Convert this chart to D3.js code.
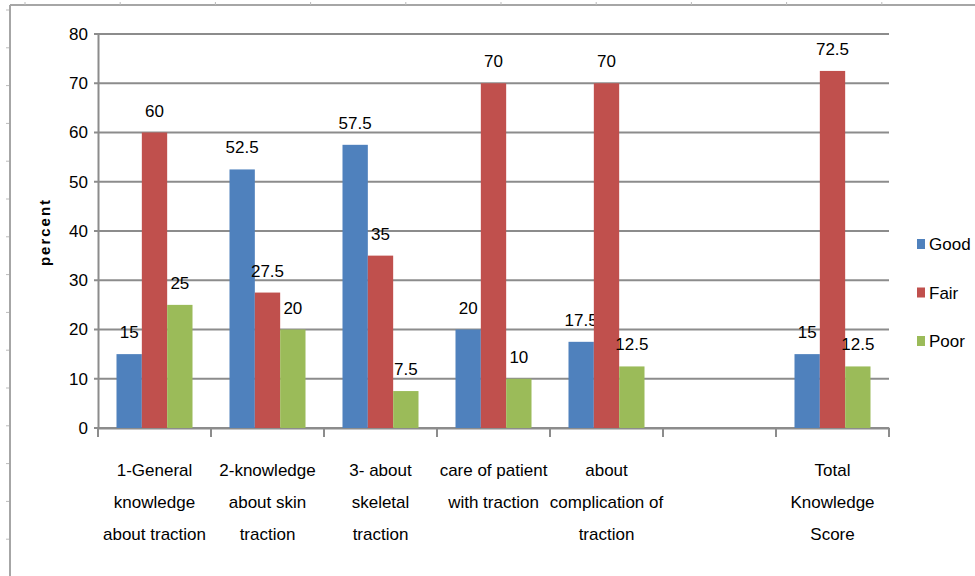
<!DOCTYPE html>
<html>
<head>
<meta charset="utf-8">
<script src="https://cdn.jsdelivr.net/npm/d3@7"></script>
<style>
  body { margin:0; background:#fff; }
  svg text { font-family:'Liberation Sans Narrow','Liberation Sans',Arial,sans-serif; fill:#000; }
</style>
</head>
<body>
<svg class="knowledge-ch"></svg>
<script>
"use strict";

var categories = [
  ['1-General','knowledge','about traction'],
  ['2-knowledge','about skin','traction'],
  ['3- about','skeletal','traction'],
  ['care of patient','with traction'],
  ['about','complication of','traction'],
  [''],
  ['Total','Knowledge','Score']
];
var seriesNames = ['Good','Fair','Poor'];
var good = [15, 52.5, 57.5, 20, 17.5, null, 15];
var fair = [60, 27.5, 35, 70, 70, null, 72.5];
var poor = [25, 20, 7.5, 10, 12.5, null, 12.5];
var yTicks = [0,10,20,30,40,50,60,70,80];
var colors = ['#4f81bd','#c0504d','#9bbb59'];

var W = 975, H = 576;
var padLeft = 98, padRight = 889, padTop = 34, padBottom = 428;

var svg = d3.select('.knowledge-ch')
  .attr('width',W)
  .attr('height',H);

// outer frame with ruler marks
svg.append('line').attr('x1',10).attr('x2',W).attr('y1',5).attr('y2',5)
  .style('stroke','#a6a6a6').style('stroke-width',2);
svg.append('line').attr('x1',10).attr('x2',10).attr('y1',5).attr('y2',H)
  .style('stroke','#a6a6a6').style('stroke-width',2);
d3.range(25,W,95.2).forEach(function(x){
  svg.append('line').attr('x1',x).attr('x2',x).attr('y1',2).attr('y2',5)
    .style('stroke','#bbb').style('stroke-width',1);
});
d3.range(10,H,37.8).forEach(function(y){
  svg.append('line').attr('x1',6).attr('x2',9).attr('y1',y).attr('y2',y)
    .style('stroke','#bbb').style('stroke-width',1);
});

var data = categories.map(function(c,i){
  return {cat:i, values:[good[i],fair[i],poor[i]]};
});

var x = d3.scaleBand()
  .range([padLeft,padRight])
  .domain(d3.range(categories.length));

var x1 = d3.scaleBand()
  .domain(seriesNames)
  .range([0,x.bandwidth()])
  .paddingOuter(0.73)
  .paddingInner(0);

var y = d3.scaleLinear()
  .range([padBottom,padTop])
  .domain([0,80]);

// gridlines
svg.append('g').selectAll('line')
  .data(yTicks)
  .enter().append('line')
    .attr('x1',padLeft-4)
    .attr('x2',padRight)
    .attr('y1',function(d){return y(d)})
    .attr('y2',function(d){return y(d)})
    .style('stroke','#8c8c8c')
    .style('stroke-width',2);

var yAxis = d3.axisLeft(y).tickValues(yTicks).tickSize(0).tickPadding(10);
var gy = svg.append('g')
  .attr('transform','translate('+padLeft+',0)')
  .call(yAxis);
gy.select('.domain').style('stroke','#8c8c8c').style('stroke-width',2);
gy.selectAll('text').style('font-size','17px');

// x axis line and ticks
var xAxis = d3.axisBottom(x).tickSize(0).tickFormat('');
var gx = svg.append('g')
  .attr('transform','translate(0,'+padBottom+')')
  .call(xAxis);
gx.select('.domain').style('stroke','#8c8c8c').style('stroke-width',2);
gx.selectAll('.tick').remove();
gx.selectAll('.sep')
  .data(d3.range(categories.length+1))
  .enter().append('line')
    .attr('x1',function(d){return padLeft + d*x.step()})
    .attr('x2',function(d){return padLeft + d*x.step()})
    .attr('y1',0)
    .attr('y2',9)
    .style('stroke','#8c8c8c')
    .style('stroke-width',2);

// bars
var groups = svg.append('g').selectAll('.grp')
  .data(data)
  .enter().append('g')
    .attr('transform',function(d){return 'translate('+x(d.cat)+',0)'});

var cells = groups.selectAll('.cell')
  .data(function(d){
    return d.values.map(function(v,j){return {name:seriesNames[j],v:v,j:j}})
      .filter(function(e){return e.v !== null});
  })
  .enter().append('g');

cells.append('rect')
  .attr('x',function(d){return x1(d.name)})
  .attr('width',x1.bandwidth())
  .attr('y',function(d){return y(d.v)})
  .attr('height',function(d){return padBottom - y(d.v)})
  .style('fill',function(d){return colors[d.j]});

cells.append('text')
  .attr('x',function(d){return x1(d.name) + x1.bandwidth()/2})
  .attr('y',function(d){return y(d.v) - 16})
  .attr('text-anchor','middle')
  .style('font-size','17px')
  .text(function(d){return d.v});

// category labels
var labels = svg.append('g').selectAll('.lab')
  .data(categories)
  .enter().append('text')
    .attr('text-anchor','middle')
    .attr('transform',function(d,i){return 'translate('+(x(i)+x.bandwidth()/2)+',0)'})
    .style('font-size','17px');
labels.selectAll('tspan')
  .data(function(d){return d})
  .enter().append('tspan')
    .attr('x',0)
    .attr('y',function(d,k){return 476 + k*32})
    .text(function(d){return d});

// y title
svg.append('text')
  .attr('transform','translate(50,232) rotate(-90)')
  .attr('text-anchor','middle')
  .style('font-family','Liberation Sans, Arial, sans-serif')
  .style('font-weight','bold')
  .style('font-size','15px')
  .style('letter-spacing','2px')
  .text('percent');

// legend
var legend = svg.append('g').selectAll('.leg')
  .data(seriesNames)
  .enter().append('g')
    .attr('transform',function(d,i){return 'translate(917,'+(244 + i*48.5)+')'});
legend.append('rect')
  .attr('x',0).attr('y',-5)
  .attr('width',8).attr('height',10)
  .style('fill',function(d,i){return colors[i]});
legend.append('text')
  .attr('x',12).attr('y',6)
  .style('font-size','17px')
  .text(function(d){return d});
</script>
</body>
</html>
